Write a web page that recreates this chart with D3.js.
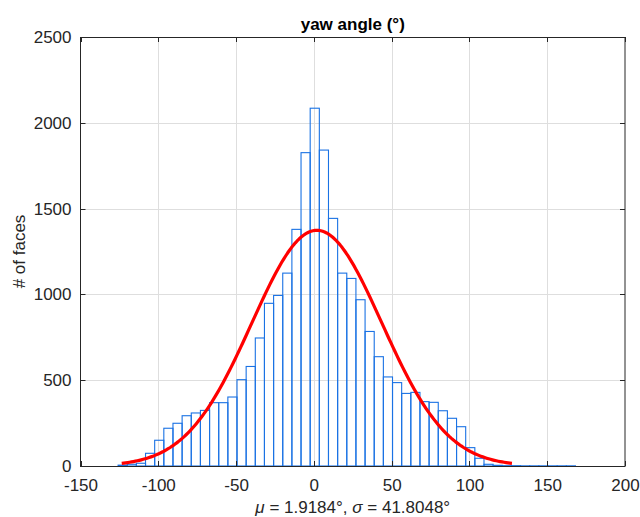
<!DOCTYPE html>
<html>
<head>
<meta charset="utf-8">
<script src="https://cdn.jsdelivr.net/npm/d3@7/dist/d3.min.js"></script>
<style>
  html, body { margin: 0; padding: 0; background: #fff; }
  svg { display: block; font-family: "Liberation Sans", Arial, Helvetica, sans-serif; }
</style>
</head>
<body>
<svg id="chart" width="640" height="517"></svg>
<script>
// Histogram of yaw angles with a fitted normal curve.
const binStart = -125.84;   // left edge of the first bin (degrees)
const binWidth = 5.88;      // width of every bin (degrees)
const counts = [
  5, 10, 16, 74, 150, 220, 249, 293, 309, 324,
  369, 369, 402, 503, 580, 746, 948, 994, 1124, 1379,
  1826, 2085, 1841, 1443, 1124, 1093, 969, 784, 637, 519,
  486, 423, 429, 375, 371, 322, 278, 229, 107, 45,
  10, 4, 2, 2, 1, 1, 1, 1, 1, 1
];
const mu = 1.9184;
const sigma = 41.8048;
const xTicks = [-150, -100, -50, 0, 50, 100, 150, 200];
const yTicks = [0, 500, 1000, 1500, 2000, 2500];
const titleText = "yaw angle (°)";
const yLabelText = "# of faces";

const svg = d3.select("#chart");
const pLeft = 80.5, pRight = 625, pTop = 37, pBottom = 466;
const fs = 17;

const x = d3.scaleLinear().domain([-150, 200]).range([pLeft, pRight]);
const y = d3.scaleLinear().domain([0, 2500]).range([pBottom, pTop]);

// grid
const grid = svg.append("g").attr("stroke", "#dedede").attr("stroke-width", 1);
xTicks.slice(1, -1).forEach(t => {
  grid.append("line").attr("x1", Math.round(x(t)) + 0.5).attr("x2", Math.round(x(t)) + 0.5)
    .attr("y1", pTop).attr("y2", pBottom);
});
yTicks.slice(1, -1).forEach(t => {
  grid.append("line").attr("x1", pLeft).attr("x2", pRight)
    .attr("y1", Math.round(y(t)) + 0.5).attr("y2", Math.round(y(t)) + 0.5);
});

// bars
const bins = counts.map((c, i) => ({ x0: binStart + i * binWidth, x1: binStart + (i + 1) * binWidth, c }));
svg.append("g").selectAll("rect").data(bins).join("rect")
  .attr("x", d => x(d.x0))
  .attr("width", d => x(d.x1) - x(d.x0))
  .attr("y", d => y(d.c))
  .attr("height", d => y(0) - y(d.c))
  .attr("fill", "none")
  .attr("stroke", "#1a72e4")
  .attr("stroke-width", 1.1);

// fitted normal curve over mu ± 3 sigma, scaled to the histogram area
const total = d3.sum(counts);
const pts = d3.range(0, 201).map(i => {
  const v = mu - 3 * sigma + (6 * sigma) * i / 200;
  const pdf = Math.exp(-0.5 * ((v - mu) / sigma) ** 2) / (sigma * Math.sqrt(2 * Math.PI));
  return [v, total * binWidth * pdf];
});
svg.append("path").datum(pts)
  .attr("d", d3.line().x(d => x(d[0])).y(d => y(d[1])))
  .attr("fill", "none").attr("stroke", "#ff0000").attr("stroke-width", 3.2)
  .attr("stroke-linejoin", "round");

// axes box
const axisColor = "#262626";
svg.append("rect").attr("x", pLeft).attr("y", pTop + 0.5).attr("width", pRight - pLeft).attr("height", pBottom - pTop)
  .attr("fill", "none").attr("stroke", axisColor).attr("stroke-width", 1);

const xAxis = d3.axisBottom(x).tickValues(xTicks).tickSize(0).tickPadding(13).tickFormat(d3.format("d"));
const gx = svg.append("g").attr("transform", `translate(0,${pBottom})`).call(xAxis);
gx.select(".domain").remove();
gx.selectAll("text").attr("font-size", fs).attr("fill", axisColor);
gx.attr("font-family", null);
gx.selectAll("text").text(d => d < 0 ? "-" + Math.abs(d) : d);

const yAxis = d3.axisLeft(y).tickValues(yTicks).tickSize(0).tickPadding(9).tickFormat(d3.format("d"));
const gy = svg.append("g").attr("transform", `translate(${pLeft},0)`).call(yAxis);
gy.select(".domain").remove();
gy.selectAll("text").attr("font-size", fs).attr("fill", axisColor);
gy.attr("font-family", null);

// inward tick marks on all four sides
const tk = svg.append("g").attr("stroke", axisColor).attr("stroke-width", 1);
xTicks.forEach(t => {
  const px = Math.round(x(t)) + 0.5;
  tk.append("line").attr("x1", px).attr("x2", px).attr("y1", pBottom).attr("y2", pBottom - 5);
  tk.append("line").attr("x1", px).attr("x2", px).attr("y1", pTop).attr("y2", pTop + 5);
});
yTicks.forEach(t => {
  const py = Math.round(y(t)) + 0.5;
  tk.append("line").attr("x1", pLeft).attr("x2", pLeft + 5).attr("y1", py).attr("y2", py);
  tk.append("line").attr("x1", pRight).attr("x2", pRight - 5).attr("y1", py).attr("y2", py);
});

// title
svg.append("text").attr("x", (pLeft + pRight) / 2).attr("y", 30)
  .attr("text-anchor", "middle").attr("font-size", fs).attr("font-weight", "bold")
  .attr("fill", "#000").text(titleText);

// y label
svg.append("text").attr("transform", `translate(25,${(pTop + pBottom) / 2}) rotate(-90)`)
  .attr("text-anchor", "middle").attr("font-size", fs).attr("fill", axisColor).text(yLabelText);

// x label with italic greek symbols
const xl = svg.append("text").attr("x", (pLeft + pRight) / 2).attr("y", 513)
  .attr("text-anchor", "middle").attr("font-size", fs).attr("fill", axisColor);
xl.append("tspan").attr("font-style", "italic").text("μ");
xl.append("tspan").text(` = ${mu}°, `);
xl.append("tspan").attr("font-style", "italic").text("σ");
xl.append("tspan").text(` = ${sigma}°`);
</script>
</body>
</html>
